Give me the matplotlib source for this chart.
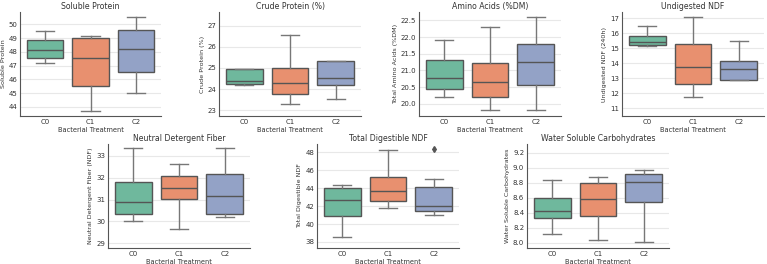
import numpy as np
import matplotlib
matplotlib.use("Agg")
import matplotlib.pyplot as plt

# group labels
treatments = ["C0", "C1", "C2"]

# box stats: [whisker low, q1, median, q3, whisker high] per treatment
soluble_protein = [[47.19, 47.53, 48.13, 48.85, 49.52],
                   [43.71, 45.51, 47.55, 48.99, 49.14],
                   [45.01, 46.50, 48.18, 49.57, 50.53]]
crude_protein = [[24.21, 24.26, 24.40, 24.93, 24.94],
                 [23.27, 23.77, 24.27, 24.99, 26.59],
                 [23.51, 24.20, 24.53, 25.34, 25.35]]
amino_acids = [[20.19, 20.44, 20.78, 21.30, 21.90],
               [19.80, 20.20, 20.65, 21.23, 22.31],
               [19.80, 20.57, 21.25, 21.80, 22.61]]
undigested_ndf = [[15.13, 15.22, 15.40, 15.81, 16.47],
                  [11.73, 12.60, 13.77, 15.29, 17.09],
                  [12.91, 12.91, 13.64, 14.16, 15.46]]
ndf = [[30.04, 30.33, 30.91, 31.82, 33.35],
       [29.63, 31.02, 31.52, 32.07, 32.63],
       [30.18, 30.36, 31.15, 32.16, 33.35]]
total_dig_ndf = [[38.52, 40.86, 42.72, 43.99, 44.39],
                 [41.75, 42.61, 43.65, 45.29, 48.22],
                 [41.01, 41.49, 42.01, 44.10, 44.99]]
wsc = [[8.12, 8.33, 8.42, 8.59, 8.84],
       [8.03, 8.36, 8.58, 8.79, 8.88],
       [8.01, 8.54, 8.81, 8.92, 8.97]]

# outliers per treatment
total_dig_ndf_fliers = [[], [], [48.37]]

titles = ["Soluble Protein", "Crude Protein (%)", "Amino Acids (%DM)", "Undigested NDF",
          "Neutral Detergent Fiber", "Total Digestible NDF", "Water Soluble Carbohydrates"]
ylabels = ["Soluble Protein", "Crude Protein (%)", "Total Amino Acids (%DM)", "Undigested NDF (240h)",
           "Neutral Detergent Fiber (NDF)", "Total Digestible NDF", "Water Soluble Carbohydrates"]
panels = [soluble_protein, crude_protein, amino_acids, undigested_ndf, ndf, total_dig_ndf, wsc]
fliers = [None, None, None, None, None, total_dig_ndf_fliers, None]
ylims = [(43.33, 50.89), (22.72, 27.66), (19.63, 22.75), (10.48, 17.42),
         (28.78, 33.55), (37.33, 48.93), (7.93, 9.315)]
yticks = [np.arange(44, 51, 1), np.arange(23, 28, 1), np.arange(20, 22.51, 0.5), np.arange(11, 18, 1),
          np.arange(29, 34, 1), np.arange(38, 49, 2), np.arange(8.0, 9.21, 0.2)]
ytick_fmt = ["{:.0f}", "{:.0f}", "{:.1f}", "{:.0f}", "{:.0f}", "{:.0f}", "{:.1f}"]

colors = ["#6fb89d", "#e8906f", "#93a2c6"]

W, H = 767, 264
fig = plt.figure(figsize=(W / 100, H / 100), dpi=100)

# axes boxes in pixels: left, top, width, height
boxes = [(20, 12, 141, 104), (219, 12, 142, 104), (419, 12, 142, 104), (622, 12, 142, 104),
         (108, 144, 142, 104), (317, 144, 142, 104), (527, 144, 142, 104)]

for i, (l, t, w, h) in enumerate(boxes):
    ax = fig.add_axes([l / W, 1 - (t + h) / H, w / W, h / H])
    stats = []
    for j, vals in enumerate(panels[i]):
        st = dict(whislo=vals[0], q1=vals[1], med=vals[2], q3=vals[3], whishi=vals[4],
                  fliers=fliers[i][j] if fliers[i] else [])
        stats.append(st)
    bp = ax.bxp(stats, positions=range(3), widths=0.8, patch_artist=True,
                boxprops=dict(edgecolor="#555555", linewidth=1.0),
                medianprops=dict(color="#555555", linewidth=1.0),
                whiskerprops=dict(color="#777777", linewidth=1.0),
                capprops=dict(color="#777777", linewidth=1.0),
                flierprops=dict(marker="d", markersize=3, markerfacecolor="#555555",
                                markeredgecolor="#555555"),
                capwidths=0.4)
    for patch, c in zip(bp["boxes"], colors):
        patch.set_facecolor(c)
    ax.set_xlim(-0.55, 2.55)
    ax.set_ylim(*ylims[i])
    ax.set_yticks(yticks[i])
    ax.set_yticklabels([ytick_fmt[i].format(v) for v in yticks[i]])
    ax.set_xticks(range(3))
    ax.set_xticklabels(treatments)
    ax.tick_params(labelsize=5, length=0, pad=2, colors="#333333")
    ax.set_title(titles[i], fontsize=5.6, color="#333333", pad=2.5)
    ax.set_ylabel(ylabels[i], fontsize=4.6, color="#333333", labelpad=2)
    ax.set_xlabel("Bacterial Treatment", fontsize=4.8, color="#333333", labelpad=1.5)
    ax.grid(axis="y", color="#e8e8e8", linewidth=0.8)
    ax.set_axisbelow(True)
    for s in ["top", "right"]:
        ax.spines[s].set_visible(False)
    for s in ["left", "bottom"]:
        ax.spines[s].set_color("#555555")
        ax.spines[s].set_linewidth(0.8)

fig.savefig("out.png", dpi=100)
